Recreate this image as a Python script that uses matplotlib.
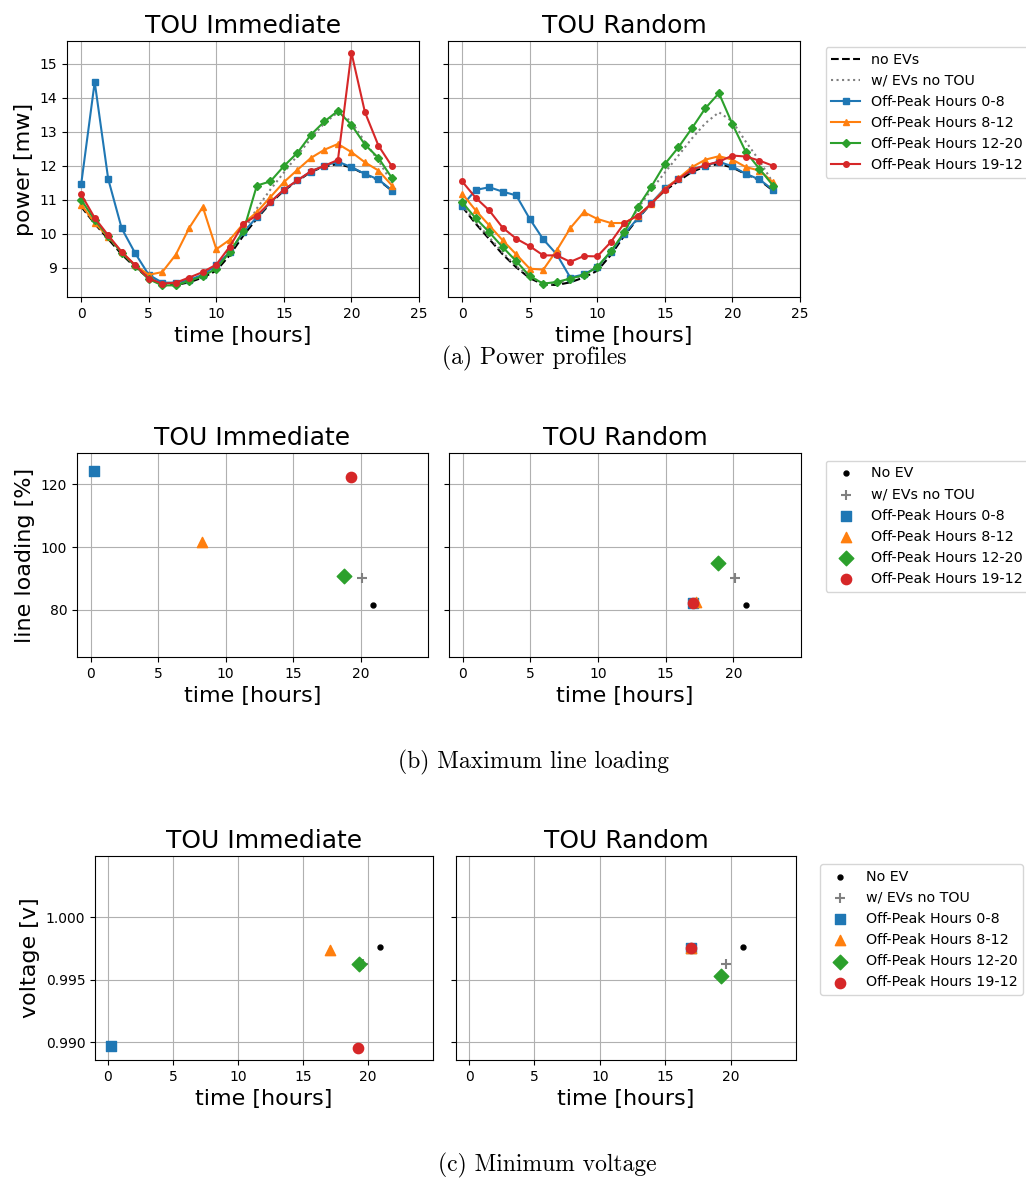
import matplotlib
matplotlib.use('Agg')
import matplotlib.pyplot as plt
from matplotlib.ticker import FormatStrFormatter
import numpy as np

W, H = 1026, 1178

hours = list(range(24))

# (a) power profiles [mw]
no_ev = [10.8, 10.3, 9.85, 9.4, 9.02, 8.7, 8.52, 8.5, 8.58, 8.72, 8.92, 9.38,
         9.95, 10.45, 10.9, 11.27, 11.55, 11.82, 11.98, 12.05, 11.95, 11.75, 11.58, 11.27]
no_tou = [10.85, 10.35, 9.9, 9.45, 9.05, 8.75, 8.55, 8.55, 8.65, 8.8, 9.0, 9.45,
          10.05, 10.75, 11.3, 11.8, 12.3, 12.8, 13.25, 13.57, 13.3, 12.7, 12.15, 11.5]

imm_0_8 = [11.46, 14.46, 11.61, 10.16, 9.43, 8.80, 8.57, 8.57, 8.65, 8.8, 9.08, 9.47,
           10.05, 10.49, 10.93, 11.29, 11.57, 11.83, 12.0, 12.12, 11.96, 11.76, 11.6, 11.27]
imm_8_12 = [10.86, 10.32, 9.91, 9.47, 9.08, 8.80, 8.88, 9.39, 10.18, 10.79, 9.55, 9.83,
            10.3, 10.64, 11.08, 11.52, 11.88, 12.23, 12.47, 12.64, 12.40, 12.1, 11.86, 11.42]
imm_12_20 = [11.0, 10.41, 9.93, 9.44, 9.06, 8.67, 8.49, 8.49, 8.62, 8.76, 8.98, 9.47,
             10.08, 11.42, 11.54, 11.99, 12.38, 12.91, 13.30, 13.61, 13.2, 12.62, 12.23, 11.64]
imm_19_12 = [11.16, 10.47, 9.96, 9.47, 9.08, 8.69, 8.54, 8.57, 8.72, 8.88, 9.10, 9.63,
             10.30, 10.54, 10.93, 11.30, 11.57, 11.84, 12.0, 12.17, 15.32, 13.57, 12.59, 11.98]

rnd_0_8 = [10.83, 11.29, 11.37, 11.24, 11.13, 10.44, 9.84, 9.40, 8.72, 8.81, 9.03, 9.47,
           10.0, 10.46, 10.91, 11.34, 11.61, 11.88, 12.0, 12.12, 11.98, 11.76, 11.6, 11.29]
rnd_8_12 = [11.18, 10.69, 10.25, 9.81, 9.40, 8.98, 8.95, 9.52, 10.17, 10.64, 10.44, 10.32,
            10.32, 10.54, 10.88, 11.32, 11.63, 11.96, 12.18, 12.28, 12.18, 11.96, 11.86, 11.52]
rnd_12_20 = [10.93, 10.46, 10.05, 9.61, 9.20, 8.76, 8.54, 8.59, 8.69, 8.79, 9.03, 9.49,
             10.05, 10.79, 11.39, 12.05, 12.54, 13.10, 13.69, 14.13, 13.22, 12.40, 11.91, 11.42]
rnd_19_12 = [11.54, 11.06, 10.69, 10.18, 9.86, 9.64, 9.37, 9.37, 9.18, 9.35, 9.34, 9.76,
             10.32, 10.54, 10.88, 11.3, 11.61, 11.88, 12.02, 12.12, 12.30, 12.27, 12.15, 12.0]

labels = ['Off-Peak Hours 0-8', 'Off-Peak Hours 8-12',
          'Off-Peak Hours 12-20', 'Off-Peak Hours 19-12']
colors = ['tab:blue', 'tab:orange', 'tab:green', 'tab:red']
markers = ['s', '^', 'D', 'o']

# (b) max line loading: (hour, percent)
load_noev = (20.96, 81.6)
load_notou = (20.12, 90.05)
load_imm_t = [0.25, 8.25, 18.77, 19.26]
load_imm_v = [124.2, 101.7, 90.8, 122.2]
load_rnd_t = [17.0, 17.26, 18.89, 17.01]
load_rnd_v = [82.1, 82.4, 95.1, 82.1]

# (c) min voltage: (hour, value)
volt_noev = (20.94, 0.99763)
volt_notou_imm = (19.6, 0.99625)
volt_notou_rnd = (19.64, 0.99624)
volt_imm_t = [0.26, 17.07, 19.34, 19.23]
volt_imm_v = [0.98965, 0.99736, 0.99624, 0.98949]
volt_rnd_t = [16.99, 16.99, 19.26, 16.99]
volt_rnd_v = [0.99755, 0.99755, 0.99525, 0.99755]

fig = plt.figure(figsize=(W / 100, H / 100), dpi=100)

def px_axes(l, t, r, b, **kw):
    return fig.add_axes([l / W, 1 - b / H, (r - l) / W, (b - t) / H], **kw)

def fig_legend(ax, left, top):
    ax.legend(loc='upper left', bbox_to_anchor=(left / W, 1 - top / H),
              bbox_transform=fig.transFigure, fontsize=10.3, borderaxespad=0)

title_fs = 18
label_fs = 16

# ---- (a)
a1 = px_axes(67, 41, 419, 297)
a2 = px_axes(448, 41, 800, 297, sharey=a1)
imm = [imm_0_8, imm_8_12, imm_12_20, imm_19_12]
rnd = [rnd_0_8, rnd_8_12, rnd_12_20, rnd_19_12]
for ax, series, ttl in [(a1, imm, 'TOU Immediate'), (a2, rnd, 'TOU Random')]:
    ax.plot(hours, no_ev, 'k--', lw=1.5, label='no EVs')
    ax.plot(hours, no_tou, ':', color='gray', lw=1.5, label='w/ EVs no TOU')
    for s, c, m, lab in zip(series, colors, markers, labels):
        ax.plot(hours, s, color=c, marker=m, ms=4, lw=1.5, label=lab)
    ax.set_xlim(-1.05, 25)
    ax.set_xticks([0, 5, 10, 15, 20, 25])
    ax.grid(True)
    ax.set_title(ttl, fontsize=title_fs)
    ax.set_xlabel('time [hours]', fontsize=label_fs)
a1.set_ylabel('power [mw]', fontsize=label_fs)
a1.set_yticks([9, 10, 11, 12, 13, 14, 15])
plt.setp(a2.get_yticklabels(), visible=False)
fig_legend(a2, 825.5, 47)

# ---- (b)
b1 = px_axes(77, 453, 428, 657)
b2 = px_axes(449, 453, 801, 657, sharey=b1)
for ax, tt, vv, ttl in [(b1, load_imm_t, load_imm_v, 'TOU Immediate'),
                        (b2, load_rnd_t, load_rnd_v, 'TOU Random')]:
    ax.scatter(*load_noev, marker='.', color='k', s=50, label='No EV', zorder=3)
    ax.scatter(*load_notou, marker='+', color='gray', s=50, label='w/ EVs no TOU', zorder=3)
    for t, v, c, m, lab in zip(tt, vv, colors, markers, labels):
        ax.scatter(t, v, marker=m, color=c, s=55, label=lab, zorder=3)
    ax.set_xlim(-1, 25)
    ax.set_xticks([0, 5, 10, 15, 20])
    ax.grid(True)
    ax.set_title(ttl, fontsize=title_fs)
    ax.set_xlabel('time [hours]', fontsize=label_fs)
b1.set_ylim(65, 130)
b1.set_yticks([80, 100, 120])
b1.set_ylabel('line loading [%]', fontsize=label_fs)
plt.setp(b2.get_yticklabels(), visible=False)
fig_legend(b2, 825.5, 460.5)

# ---- (c)
c1 = px_axes(95, 856, 433, 1060)
c2 = px_axes(456, 856, 796, 1060, sharey=c1)
for ax, tt, vv, nt, ttl in [(c1, volt_imm_t, volt_imm_v, volt_notou_imm, 'TOU Immediate'),
                            (c2, volt_rnd_t, volt_rnd_v, volt_notou_rnd, 'TOU Random')]:
    ax.scatter(*volt_noev, marker='.', color='k', s=50, label='No EV', zorder=3)
    ax.scatter(*nt, marker='+', color='gray', s=50, label='w/ EVs no TOU', zorder=3)
    for t, v, c, m, lab in zip(tt, vv, colors, markers, labels):
        ax.scatter(t, v, marker=m, color=c, s=55, label=lab, zorder=3)
    ax.set_xlim(-1, 25)
    ax.set_xticks([0, 5, 10, 15, 20])
    ax.grid(True)
    ax.set_title(ttl, fontsize=title_fs)
    ax.set_xlabel('time [hours]', fontsize=label_fs)
c1.set_ylim(0.98856, 1.0049)
c1.set_yticks([0.990, 0.995, 1.000])
c1.yaxis.set_major_formatter(FormatStrFormatter('%.3f'))
c1.set_ylabel('voltage [v]', fontsize=label_fs)
plt.setp(c2.get_yticklabels(), visible=False)
fig_legend(c2, 820, 864)

# captions
cap = dict(ha='center', va='center', fontsize=17, family='cmr10')
fig.text(534 / W, 1 - 358 / H, '(a) Power profiles', **cap)
fig.text(534 / W, 1 - 762 / H, '(b) Maximum line loading', **cap)
fig.text(547 / W, 1 - 1165 / H, '(c) Minimum voltage', **cap)

fig.savefig('out.png', dpi=100)
